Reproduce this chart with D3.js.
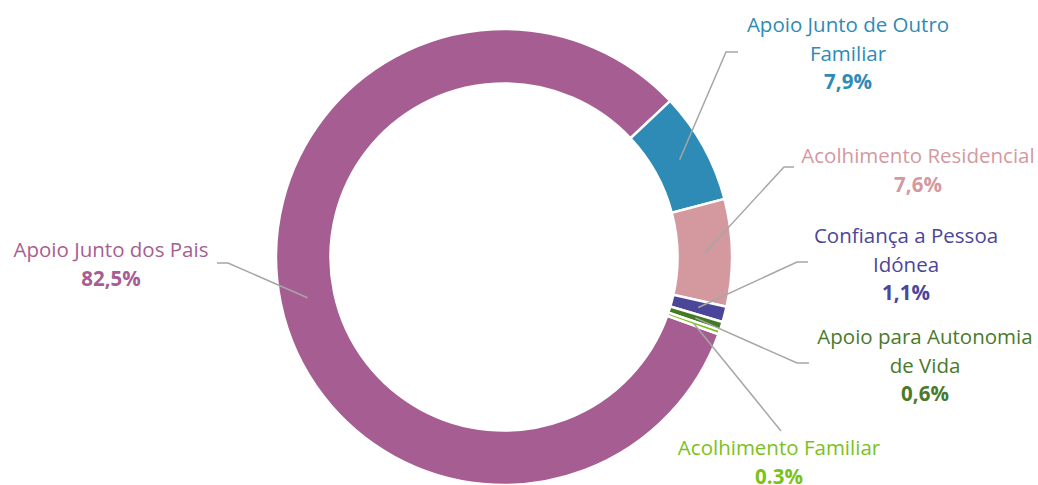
<!DOCTYPE html>
<html>
<head>
<meta charset="utf-8">
<script src="https://cdn.jsdelivr.net/npm/d3@7"></script>
<style>
  body { margin: 0; background: #fff; }
  svg text { font-family: "Open Sans", Lato, sans-serif; }
</style>
</head>
<body>
<div id="chart"></div>
<script>
var svgWidth = 1038;
var svgHeight = 485;

// data
var categories = [
  "Apoio Junto dos Pais",
  "Apoio Junto de Outro Familiar",
  "Acolhimento Residencial",
  "Confiança a Pessoa Idónea",
  "Apoio para Autonomia de Vida",
  "Acolhimento Familiar"
];
var values = [82.5, 7.9, 7.6, 1.1, 0.6, 0.3];
var pctLabels = ["82,5%", "7,9%", "7,6%", "1,1%", "0,6%", "0.3%"];

// styles
var colors = ["#a65e92", "#2e8bb5", "#d4999f", "#4b4699", "#437a23", "#7bc11c"];
var textColors = ["#a65e92", "#2e8bb5", "#d4999f", "#4b4699", "#4a7a2a", "#7bc11c"];

// label layout (text lines, position, leader elbow)
var labelLayout = [
  { lines: ["Apoio Junto dos Pais"], x: 111, y: 257, elbow: [228, 263], end: [217, 263] },
  { lines: ["Apoio Junto de Outro", "Familiar"], x: 848, y: 32, elbow: [726, 52], end: [738, 52] },
  { lines: ["Acolhimento Residencial"], x: 918, y: 163, elbow: [784, 167], end: [794, 167] },
  { lines: ["Confiança a Pessoa", "Idónea"], x: 906, y: 243, elbow: [797, 262], end: [808, 262] },
  { lines: ["Apoio para Autonomia", "de Vida"], x: 925, y: 344, elbow: [797, 363], end: [809, 363] },
  { lines: ["Acolhimento Familiar"], x: 779, y: 455, elbow: [781, 431], end: [781, 431] }
];
var lineHeight = 28.6;

var cx = 504, cy = 257;
var outerR = 228, innerR = 173.5;
var startDeg = 109.8;

var svg = d3.select("#chart")
  .append("svg")
  .attr("width", svgWidth)
  .attr("height", svgHeight);

var chartGroup = svg.append("g")
  .attr("transform", `translate(${cx}, ${cy})`);

var pie = d3.pie()
  .sort(null)
  .value(d => d)
  .startAngle(startDeg * Math.PI / 180)
  .endAngle(startDeg * Math.PI / 180 + 2 * Math.PI);

var arc = d3.arc()
  .innerRadius(innerR)
  .outerRadius(outerR);

var arcs = pie(values);

chartGroup.selectAll("path.slice")
  .data(arcs)
  .enter()
  .append("path")
  .attr("class", "slice")
  .attr("d", arc)
  .attr("fill", (d, i) => colors[i])
  .attr("stroke", "#fff")
  .attr("stroke-width", 2.5)
  .attr("stroke-linejoin", "miter");

// leader lines
svg.selectAll("polyline.leader")
  .data(arcs)
  .enter()
  .append("polyline")
  .attr("class", "leader")
  .attr("points", function(d, i) {
    var c = arc.centroid(d);
    var L = labelLayout[i];
    return [[c[0] + cx, c[1] + cy], L.elbow, L.end].map(p => p.join(",")).join(" ");
  })
  .attr("fill", "none")
  .attr("stroke", "#a6a6a6")
  .attr("stroke-width", 1.5);

// labels
labelLayout.forEach(function(L, i) {
  var t = svg.append("text")
    .attr("x", L.x)
    .attr("y", L.y)
    .attr("text-anchor", "middle")
    .style("fill", textColors[i])
    .style("font-size", "20.5px");
  L.lines.forEach(function(line, j) {
    t.append("tspan")
      .attr("x", L.x)
      .attr("y", L.y + j * lineHeight)
      .text(line);
  });
  t.append("tspan")
    .attr("x", L.x)
    .attr("y", L.y + L.lines.length * lineHeight)
    .style("font-weight", "bold")
    .text(pctLabels[i]);
});
</script>
</body>
</html>
